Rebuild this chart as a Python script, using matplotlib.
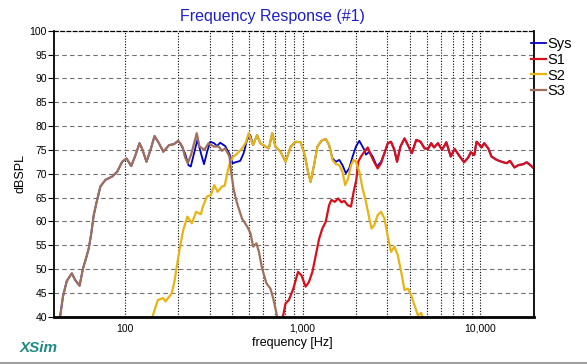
import numpy as np
import matplotlib
matplotlib.use('Agg')
import matplotlib.pyplot as plt
from matplotlib.lines import Line2D
from matplotlib.ticker import FixedLocator, NullFormatter

plt.rcParams['font.family'] = ['Liberation Sans', 'DejaVu Sans']

# S3 (woofer, brown)
s3_f = [42.5, 43.4, 44.9, 47.2, 50.4, 52.6, 55.7, 58.2, 60.5, 62.7, 64.6, 66.9, 69.2, 72.9,
        77.8, 84.9, 90.6, 96.7, 102.3, 108.7, 114.9, 121, 125, 132.5, 139.6, 147, 155.6,
        164.7, 177.4, 189.3, 199.5, 211, 218, 226, 236, 247, 254, 263, 268, 280, 296, 316,
        337, 352, 367, 388, 396, 410, 428, 456, 488, 509, 527, 550, 568, 592, 626, 659,
        684, 713, 725]
s3_db = [39.0, 40.3, 44.2, 47.5, 49.1, 47.7, 46.5, 50.1, 52.2, 54.3, 57.1, 61.3, 63.8, 67.3,
         68.7, 69.4, 70.4, 72.5, 73.2, 71.6, 73.9, 76.4, 75.3, 72.5, 75.0, 77.9, 76.4,
         74.6, 76.0, 76.2, 76.9, 75.7, 73.5, 72.2, 74.0, 76.8, 78.5, 75.7, 75.5, 75.0, 76.4, 75.7,
         75.7, 74.8, 75.3, 73.6, 70.5, 66.6, 63.8, 60.6, 58.9, 57.5, 54.7, 55.4, 53.6, 50.1, 47.0,
         45.9, 43.8, 40.7, 39.0]

# S2 (mid, yellow)
s2_f = [141, 144, 153.5, 164.4, 169.4, 183.7, 190.5, 196, 204.6, 213.3, 224.9, 238.2, 251.8,
        267.9, 274.8, 289.7, 304.8, 318.4, 332.7, 351.6, 364.8, 378.4, 391.7, 409, 430.5, 456,
        478.6, 497.7, 526, 554.6, 578, 618, 645.7, 674.5, 703, 751.6, 801.7, 857, 914, 975,
        1028, 1072, 1109, 1159, 1211, 1276, 1349, 1409, 1472, 1538, 1607, 1675, 1734, 1803,
        1871, 1936, 1995, 2084, 2173, 2270, 2371, 2443, 2529, 2642, 2761, 2884, 3013, 3141,
        3281, 3428, 3581, 3741, 3908, 4074, 4256, 4446, 4645, 4786]
s2_db = [39.0, 40.3, 43.5, 43.9, 43.2, 44.9, 47.5, 50.5, 54.7, 58.2, 61.0, 59.6, 62.0,
         61.5, 63.1, 65.2, 65.5, 67.6, 66.2, 67.3, 67.5, 70.4, 72.5, 73.6, 74.3, 75.3,
         76.5, 78.5, 76.0, 78.1, 76.4, 75.7, 75.3, 78.5, 75.7, 74.6, 72.5, 75.7, 76.7, 76.6,
         73.9, 70.4, 68.3, 71.8, 75.7, 76.9, 77.3, 76.0, 72.9, 72.0, 71.8, 70.4, 67.6, 69.0,
         71.8, 72.9, 72.5, 70.4, 66.9, 64.1, 60.6, 58.5, 59.2, 61.3, 62.0, 60.6, 56.8, 53.6,
         54.7, 52.9, 49.4, 45.6, 45.9, 44.5, 42.4, 40.3, 40.8, 39.0]

# S1 (tweeter, red)
s1_f = [759, 778, 802, 837, 887, 942, 984, 1040, 1086, 1135, 1186, 1239, 1291, 1349, 1409,
        1452, 1517, 1585, 1656, 1714, 1791, 1871, 1936, 2004, 2056, 2128, 2223, 2323, 2421,
        2529, 2642, 2761, 2884, 3013, 3141, 3281, 3396, 3548, 3741, 3908, 4111, 4355, 4603,
        4853, 5070, 5284, 5483, 5768, 6081, 6427, 6808, 7161, 7551, 8091, 8531, 8831, 9226,
        9506, 9795, 10139, 10495, 11066, 11535, 12331, 13152, 14028, 14655, 15524, 16331,
        17418, 18197, 19055, 20137]
s1_db = [39.0, 40.3, 42.8, 43.5, 45.9, 49.4, 48.7, 46.3, 47.3, 49.4, 52.9, 56.4, 58.5, 59.9, 63.4,
         64.5, 64.1, 64.8, 64.0, 64.3, 63.4, 63.1, 66.2, 68.7, 72.5, 73.6, 74.6, 75.5, 73.9,
         72.4, 71.1, 72.2, 74.3, 76.4, 76.7, 75.0, 72.5, 75.7, 77.4, 76.0, 74.3, 77.1, 76.7,
         75.3, 75.2, 76.4, 75.5, 76.4, 75.0, 76.6, 73.6, 75.2, 73.9, 72.4, 73.4, 74.5, 73.9,
         76.7, 76.2, 75.5, 76.4, 75.3, 73.6, 72.9, 72.5, 72.2, 72.7, 71.3, 71.8,
         72.0, 72.4, 71.8, 71.0]

# Sys, where it differs from the drivers
sys_lo_f = [205, 218, 228, 235, 248, 256, 268, 279, 290, 302, 318, 330, 344, 367, 388, 404,
            428, 446, 466, 487, 508]
sys_lo_db = [76.4, 74.3, 71.8, 71.5, 75.0, 77.1, 74.3, 72.0, 74.5, 76.7, 76.4, 75.8, 76.5,
             75.8, 74.1, 72.2, 72.5, 72.7, 74.3, 77.1, 78.1]
sys_hi_f = [1409, 1472, 1538, 1607, 1675, 1750, 1828, 1910, 1995, 2084, 2148, 2223, 2270,
            2371, 2477, 2618, 2761, 2884]
sys_hi_db = [76.0, 73.2, 72.5, 72.9, 71.8, 70.1, 71.1, 73.6, 75.7, 76.9, 76.0, 75.0, 74.0,
             74.6, 73.6, 71.5, 72.5, 74.3]

series_names = ['Sys', 'S1', 'S2', 'S3']
colors = ['#0000c8', '#d8101c', '#e8b414', '#a0705a']

# build the full Sys curve from pieces
def piece(f, db, lo, hi):
    f = np.asarray(f, float); db = np.asarray(db, float)
    m = (f >= lo) & (f <= hi)
    return f[m], db[m]

parts = [piece(s3_f, s3_db, 0, 200), (np.array(sys_lo_f, float), np.array(sys_lo_db, float)),
         piece(s2_f, s2_db, 520, 1360), (np.array(sys_hi_f, float), np.array(sys_hi_db, float)),
         piece(s1_f, s1_db, 3000, 30000)]
sys_f = np.concatenate([p[0] for p in parts])
sys_db = np.concatenate([p[1] for p in parts])

fig = plt.figure(figsize=(5.87, 3.64), dpi=100)
fig.patch.set_facecolor('white')
ax = fig.add_axes([54 / 587, 1 - 316.7 / 364, 480 / 587, 286 / 364])

data = [(sys_f, sys_db), (s1_f, s1_db), (s2_f, s2_db), (s3_f, s3_db)]
widths = [1.3, 1.6, 1.6, 1.6]
for (f, db), name, c, w in zip(data, series_names, colors, widths):
    ax.plot(f, db, color=c, lw=w, label=name, solid_joinstyle='round')

ax.set_xscale('log')
ax.set_xlim(40, 20000)
ax.set_ylim(40, 100)

# grid
grid_f = [f for d in (100, 1000) for f in range(d, 10 * d, d)] + [10000]
ax.xaxis.set_major_locator(FixedLocator([100, 1000, 10000]))
ax.xaxis.set_minor_locator(FixedLocator([f for f in grid_f if f not in (100, 1000, 10000)]))
ax.xaxis.set_minor_formatter(NullFormatter())
ax.set_xticklabels(['100', '1,000', '10,000'])
ax.set_yticks(range(40, 101, 5))
for f in grid_f:
    ax.axvline(f, color='black', lw=0.8, ls=(0, (1, 1.5)), zorder=0)
for y in range(45, 100, 5):
    ax.axhline(y, color='#707070', lw=0.8, ls=(0, (4, 3)), zorder=0)

ax.tick_params(axis='y', labelsize=7.5, length=4, width=0.8, pad=1)
ax.tick_params(axis='x', which='both', labelsize=7.5, length=0, pad=5)

for s in ['left', 'right']:
    ax.spines[s].set_linewidth(1.3)
ax.spines['bottom'].set_linewidth(2)
ax.spines['top'].set_linewidth(0.9)
ax.spines['top'].set_linestyle((0, (3, 2)))

fig.text(272 / 587, 1 - 17 / 364, 'Frequency Response (#1)', color='#1e1ec8',
         fontsize=11.5, ha='center', va='center')
fig.text(292 / 587, 1 - 343 / 364, 'frequency [Hz]', fontsize=9, ha='center', va='center')
fig.text(20 / 587, 1 - 173.7 / 364, 'dBSPL', fontsize=9, rotation=90, ha='center', va='center')
fig.text(20 / 587, 1 - 347.5 / 364, 'XSim', color='#1f8a84', fontsize=11,
         weight='bold', style='italic', ha='left', va='center')

fig.legend(loc='upper left', bbox_to_anchor=(531 / 587, 1 - 37 / 364),
           bbox_transform=fig.transFigure, frameon=False, fontsize=10.5,
           handlelength=1.0, handletextpad=0.15, labelspacing=0.12, borderpad=0,
           borderaxespad=0)

fig.add_artist(Line2D([0, 1], [1 - 362.5 / 364] * 2, color='#a0a0a0', lw=1.5,
                      transform=fig.transFigure))

fig.savefig('out.png', dpi=100)
